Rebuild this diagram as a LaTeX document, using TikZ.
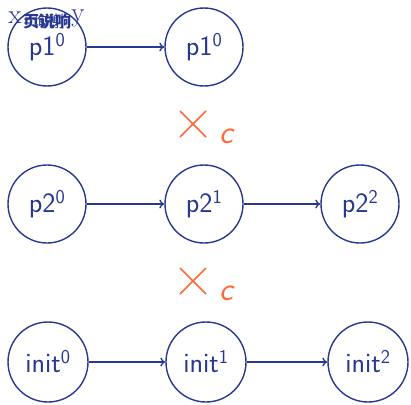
\documentclass[tikz,border=0pt]{standalone}
\usepackage{fontspec}
\usetikzlibrary{arrows.meta}
\newfontfamily\cjk{Noto Sans CJK SC}
\definecolor{navy}{RGB}{40,55,145}
\definecolor{tomato}{RGB}{255,105,55}
\begin{document}
\begin{tikzpicture}[x=1pt,y=-1pt,
  state/.style={circle,draw=navy,line width=1.4pt,text=navy,inner sep=0pt,
    minimum size=78pt,font=\fontsize{28}{32}\selectfont\sffamily},
  wide/.style={state,minimum size=80pt},
  link/.style={-{To[length=5pt,width=9pt]},draw=navy,line width=1.3pt},
  crossmark/.style={draw=tomato,line width=1.6pt}]
\useasboundingbox (0,0) rectangle (411,404);
% first row
\node[state] (a0) at (47,47) {p1\textsuperscript{0}};
\node[state] (a1) at (204,47) {p1\textsuperscript{0}};
% second row
\node[state] (b0) at (47,204) {p2\textsuperscript{0}};
\node[state] (b1) at (204,204) {p2\textsuperscript{1}};
\node[state] (b2) at (360,204) {p2\textsuperscript{2}};
% third row
\node[wide] (c0) at (48,362) {init\textsuperscript{0}};
\node[wide] (c1) at (206,362) {init\textsuperscript{1}};
\node[wide] (c2) at (368,362) {init\textsuperscript{2}};
\draw[link] (a0) -- (a1);
\draw[link] (b0) -- (b1);
\draw[link] (b1) -- (b2);
\draw[link] (c0) -- (c1);
\draw[link] (c1) -- (c2);
% product markers between rows
\foreach \yy/\nm in {124/m1,281/m2}{
  \coordinate (\nm a) at (180,\yy-13);
  \coordinate (\nm b) at (206,\yy+13);
  \coordinate (\nm c) at (180,\yy+13);
  \coordinate (\nm d) at (206,\yy-13);
  \draw[crossmark] (\nm a) -- (\nm b);
  \draw[crossmark] (\nm c) -- (\nm d);
  \node[text=tomato,font=\fontsize{33}{38}\selectfont\sffamily\itshape] (\nm t) at (226,\yy+12) {c};
}
% overlapping label over the first state
\node[text=navy,font=\fontsize{27}{30}\selectfont] (lx) at (15,18) {x};
\node[text=navy,font=\fontsize{27}{30}\selectfont] (ly) at (78,18) {y};
\node[text=navy,font=\cjk\fontsize{16}{19}\selectfont\bfseries] (l1) at (47,21) {页说响};
\node[text=navy,font=\cjk\fontsize{16}{19}\selectfont] (l2) at (44,21) {=询谢};
\end{tikzpicture}
\end{document}
